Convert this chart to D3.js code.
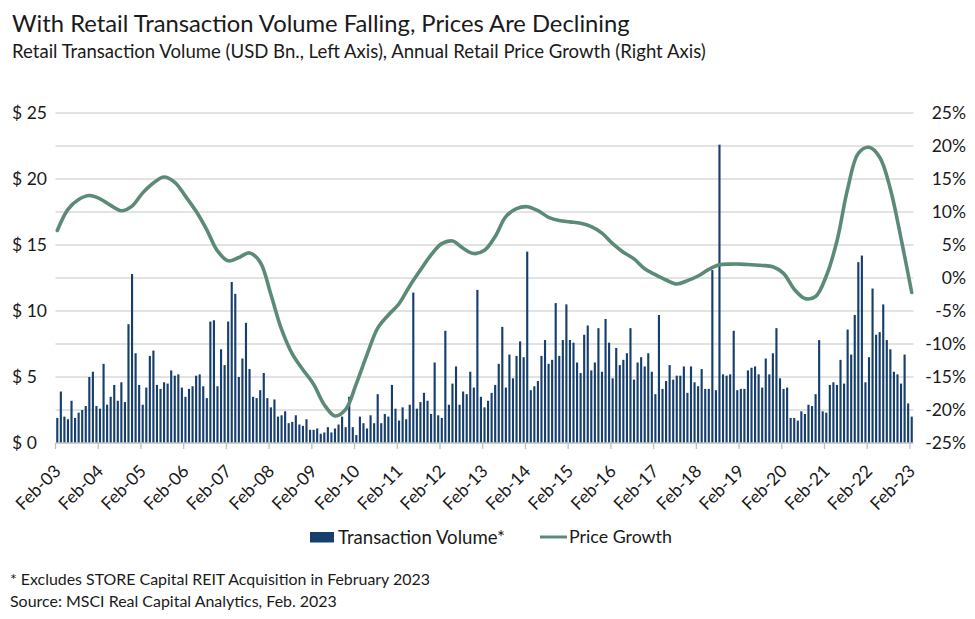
<!DOCTYPE html>
<html><head><meta charset="utf-8">
<script src="https://cdn.jsdelivr.net/npm/d3@7"></script>
<style>
body{margin:0;background:#fff}
svg{display:block}
text{font-family:Lato,"Open Sans",sans-serif;fill:#1a1a1a}
</style>
</head><body>
<svg id="c" width="975" height="619"></svg>
<script>
// ---------- DATA ----------
const tickLabels = ["Feb-03","Feb-04","Feb-05","Feb-06","Feb-07","Feb-08","Feb-09","Feb-10","Feb-11","Feb-12","Feb-13","Feb-14","Feb-15","Feb-16","Feb-17","Feb-18","Feb-19","Feb-20","Feb-21","Feb-22","Feb-23"];
const leftTicks = [0,5,10,15,20,25];
const rightTicks = [-25,-20,-15,-10,-5,0,5,10,15,20,25];
// Monthly retail transaction volume, USD Bn (Feb-03 .. Feb-23)
const volume = [
1.9,3.9,2.0,1.8,3.2,1.9,2.3,2.5,2.8,5.0,
5.4,2.8,2.6,6.0,2.9,3.5,4.4,3.2,4.6,3.1,
9.0,12.8,6.8,4.4,2.9,4.2,6.6,7.0,4.4,4.1,
4.6,4.5,5.5,5.1,5.2,4.2,3.5,4.1,4.3,5.1,
5.2,4.3,3.4,9.2,9.3,4.3,7.1,5.9,9.2,12.2,
11.3,5.0,6.4,9.1,5.6,3.5,3.4,4.0,5.3,3.4,
2.7,3.3,2.0,2.1,2.4,1.5,1.6,2.1,1.4,1.3,
1.8,1.0,1.0,1.1,0.7,0.8,1.2,0.8,1.1,1.4,
2.0,1.2,3.5,1.2,0.6,2.0,1.5,1.1,2.1,1.5,
3.7,1.5,2.2,2.0,4.4,2.6,1.7,2.7,1.8,2.9,
11.4,2.6,3.1,3.8,3.2,2.2,6.1,2.1,1.9,8.5,
2.9,4.5,5.8,2.9,3.9,3.7,5.4,4.2,11.6,
3.5,2.7,3.2,3.8,4.4,6.0,8.8,4.2,6.7,4.9,
6.6,7.7,6.5,14.5,4.0,4.3,4.7,6.6,7.8,6.0,
6.3,10.6,6.6,7.8,10.5,7.8,7.6,6.1,5.3,8.2,
8.9,5.5,6.1,8.7,5.4,9.4,7.6,4.9,7.2,5.9,
6.3,6.8,8.7,4.8,6.1,6.5,5.8,6.8,5.4,3.7,
9.7,4.1,4.7,5.9,4.8,5.1,5.1,5.8,3.8,
5.8,4.6,4.3,5.6,4.1,4.1,13.1,4.0,22.6,5.2,
5.1,5.2,8.5,4.0,4.1,4.1,5.5,5.7,5.8,5.2,
4.2,6.4,5.2,6.8,8.7,4.9,4.1,4.2,1.9,1.9,
1.7,2.4,2.2,2.9,2.8,3.7,7.8,2.4,2.3,4.4,
4.6,4.4,6.3,4.5,8.6,6.7,9.7,13.7,14.2,4.6,
6.5,11.7,8.2,8.4,10.5,7.8,7.1,5.4,5.2,4.5,
6.7,3.0,2.0
];
// Annual retail price growth, %, read quarterly (Feb-03, May-03, ... Feb-23)
const priceGrowth = [
7.2,10.4,11.9,12.5,12.0,11.0,10.2,10.9,12.9,14.4,
15.3,14.5,12.4,10.1,7.3,4.1,2.6,3.1,3.8,2.4,
-2.5,-7.8,-11.5,-13.9,-16.1,-19.2,-20.9,-19.9,-16.0,-11.6,
-7.6,-5.6,-3.9,-1.2,1.2,3.5,5.2,5.6,4.5,3.7,
4.2,6.3,9.3,10.5,10.8,10.2,9.2,8.7,8.5,8.3,
7.8,6.8,5.2,3.9,2.9,1.4,0.5,-0.3,-0.9,-0.4,
0.3,1.3,2.0,2.1,2.1,2.0,1.9,1.7,0.7,-1.7,
-3.1,-2.8,0.3,5.6,13.5,18.9,19.8,18.3,13.5,6.0,
-2.2
];
const legendItems = ["Transaction Volume*","Price Growth"];

// ---------- LAYOUT ----------
const svg = d3.select("#c");
const barColor = "#173f6e", lineColor = "#5b8b76", gridColor = "#d9d9d9";
const pLeft = 55.5, pRight = 913.5, pTop = 113, pBottom = 443;

const x = d3.scaleBand().domain(d3.range(volume.length)).range([pLeft, pRight]).paddingInner(0.4).paddingOuter(0.2);
const yL = d3.scaleLinear().domain([0,25]).range([pBottom, pTop]);
const yR = d3.scaleLinear().domain([-25,25]).range([pBottom, pTop]);
const cx = i => x(i) + x.bandwidth()/2;

function fit(sel, w){
  const n = sel.node(); const fs = parseFloat(sel.attr("font-size"));
  const m = n.getComputedTextLength(); sel.attr("font-size", (fs*w/m).toFixed(2));
}

// title
fit(svg.append("text").attr("x",12).attr("y",32).attr("font-size",22).attr("fill","#111").text("With Retail Transaction Volume Falling, Prices Are Declining"), 618);
fit(svg.append("text").attr("x",12).attr("y",58).attr("font-size",16).attr("fill","#111").text("Retail Transaction Volume (USD Bn., Left Axis), Annual Retail Price Growth (Right Axis)"), 694);

// gridlines
svg.append("g").selectAll("line").data(rightTicks.filter(d=>d>-25)).join("line")
  .attr("x1",pLeft).attr("x2",pRight).attr("y1",d=>yR(d)).attr("y2",d=>yR(d))
  .attr("stroke",gridColor).attr("stroke-width",1.3);

// bars
svg.append("g").selectAll("rect").data(volume).join("rect")
  .attr("x",(d,i)=>x(i)).attr("width",x.bandwidth())
  .attr("y",d=>yL(d)).attr("height",d=>yL(0)-yL(d)).attr("fill",barColor);

// baseline + ticks
svg.append("line").attr("x1",pLeft).attr("x2",pRight).attr("y1",pBottom).attr("y2",pBottom).attr("stroke","#bfbfbf").attr("stroke-width",1.3);
const tickX = i => x(i*12) - x.step()*x.paddingInner()/2;
svg.append("g").selectAll("line").data(tickLabels).join("line")
  .attr("x1",(d,i)=>tickX(i)).attr("x2",(d,i)=>tickX(i)).attr("y1",pBottom).attr("y2",pBottom+6)
  .attr("stroke","#bfbfbf").attr("stroke-width",1.3);
svg.append("g").selectAll("text").data(tickLabels).join("text")
  .attr("transform",(d,i)=>`translate(${tickX(i)+2},${pBottom+25}) rotate(-45)`)
  .attr("text-anchor","end").attr("font-size",17.5).attr("dy","0.35em").attr("fill","#262626").text(d=>d);

// left axis labels
svg.append("g").selectAll("text").data(leftTicks).join("text")
  .attr("x",12).attr("y",d=>yL(d)).attr("dy","0.35em").attr("font-size",17.5).attr("fill","#262626")
  .text(d=>"$ "+d);
// right axis labels
svg.append("g").selectAll("text").data(rightTicks).join("text")
  .attr("x",966).attr("y",d=>yR(d)).attr("dy","0.35em").attr("text-anchor","end").attr("font-size",17.5).attr("fill","#262626")
  .text(d=>d+"%");

// price line
const qIdx = d3.range(0, volume.length, 3);
const line = d3.line().x((d,i)=>cx(qIdx[i])).y(d=>yR(d)).curve(d3.curveCatmullRom.alpha(0.5));
svg.append("path").datum(priceGrowth).attr("d",line).attr("fill","none")
  .attr("stroke",lineColor).attr("stroke-width",3.6).attr("stroke-linejoin","round").attr("stroke-linecap","round");

// legend
const lg = svg.append("g");
lg.append("rect").attr("x",310).attr("y",532).attr("width",24).attr("height",10.5).attr("fill",barColor);
fit(lg.append("text").attr("x",338).attr("y",537).attr("dy","0.35em").attr("font-size",18).text(legendItems[0]),167);
lg.append("line").attr("x1",540).attr("x2",567).attr("y1",537).attr("y2",537).attr("stroke",lineColor).attr("stroke-width",3);
fit(lg.append("text").attr("x",569).attr("y",537).attr("dy","0.35em").attr("font-size",18).text(legendItems[1]),103);

// notes
fit(svg.append("text").attr("x",10).attr("y",579).attr("dy","0.35em").attr("font-size",15).text("* Excludes STORE Capital REIT Acquisition in February 2023"),420);
fit(svg.append("text").attr("x",10).attr("y",601).attr("dy","0.35em").attr("font-size",15).text("Source: MSCI Real Capital Analytics, Feb. 2023"),327);
</script>
</body></html>
